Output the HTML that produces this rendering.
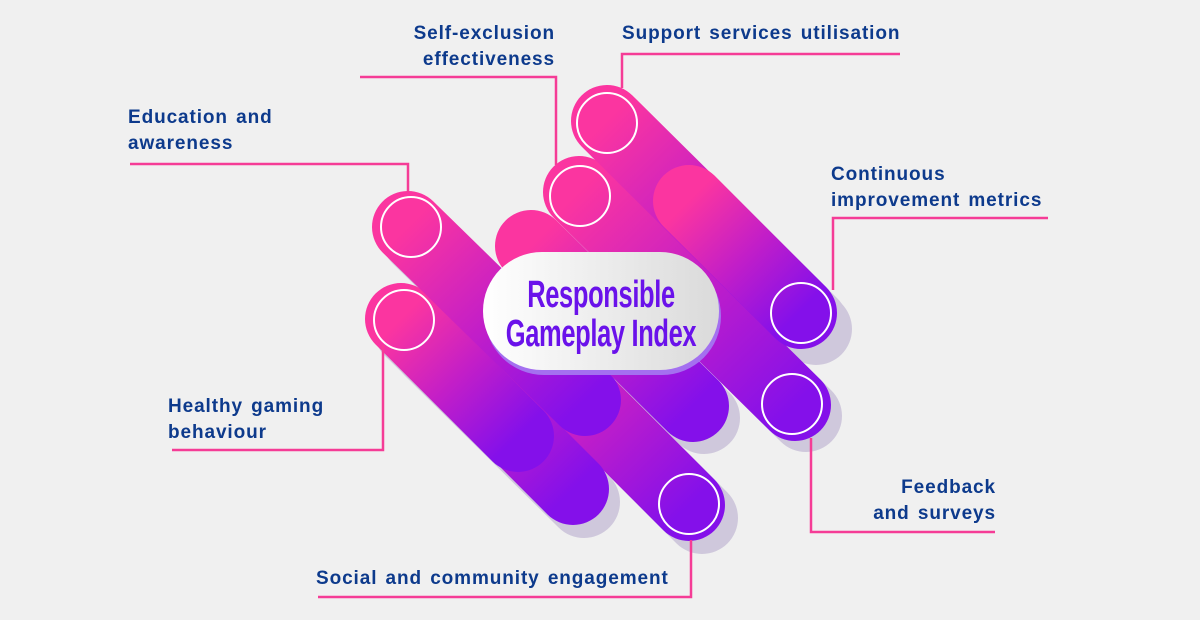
<!DOCTYPE html>
<html><head><meta charset="utf-8"><style>
html,body{margin:0;padding:0;background:#f0f0f0;}
svg{display:block}
.t{font-family:"Liberation Sans",sans-serif;font-weight:bold;font-size:19px;fill:#0d3a8c;letter-spacing:0.9px;word-spacing:2px}
</style></head><body>
<svg width="1200" height="620" viewBox="0 0 1200 620" xmlns="http://www.w3.org/2000/svg">
<defs>
<linearGradient id="g" gradientUnits="objectBoundingBox" x1="0" y1="0" x2="1" y2="1">
<stop offset="0" stop-color="#fb35a0"/><stop offset="0.5" stop-color="#c21ec8"/><stop offset="1" stop-color="#8410ea"/>
</linearGradient>
<linearGradient id="lg" x1="0" y1="0" x2="1" y2="0">
<stop offset="0" stop-color="#ffffff"/><stop offset="1" stop-color="#dadada"/>
</linearGradient>
</defs>
<g fill="none" stroke-linecap="round">
<g stroke="#cfc8dc" stroke-width="72">
<line x1="616" y1="130" x2="812" y2="324"/>
<line x1="588" y1="201" x2="806" y2="416"/>
<line x1="702" y1="215" x2="816" y2="329"/>
<line x1="540" y1="256" x2="704" y2="418"/>
<line x1="520" y1="336" x2="702" y2="518"/>
<line x1="418" y1="238" x2="596" y2="412"/>
<line x1="430" y1="350" x2="584" y2="502"/>
<line x1="410" y1="330" x2="530" y2="448"/>
</g>
</g>
<g stroke-linecap="round" fill="none" stroke-width="72">
<path d="M510 326 L689 505" stroke="url(#g)"/>
<path d="M420 336 L573 489" stroke="url(#g)"/>
<path d="M401 319 L518 436" stroke="url(#g)"/>
<path d="M408 227 L585 400" stroke="url(#g)"/>
<path d="M531 246 L693 406" stroke="url(#g)"/>
<path d="M579 192 L795 405" stroke="url(#g)"/>
<path d="M607 121 L801 313" stroke="url(#g)"/>
<path d="M689 201 L800 312" stroke="url(#g)"/>
</g>
<g fill="none" stroke="#fff" stroke-width="2">
<circle cx="607" cy="123" r="30"/>
<circle cx="580" cy="196" r="30"/>
<circle cx="411" cy="227" r="30"/>
<circle cx="404" cy="320" r="30"/>
<circle cx="801" cy="313" r="30"/>
<circle cx="792" cy="404" r="30"/>
<circle cx="689" cy="504" r="30"/>
</g>
<rect x="485" y="257" width="236" height="118" rx="59" fill="#a470f0"/>
<rect x="483" y="252" width="236" height="118" rx="59" fill="url(#lg)"/>
<g font-family="'Liberation Sans',sans-serif" font-weight="bold" font-size="38" fill="#6a12ea" text-anchor="middle">
<text transform="translate(601,307) scale(0.67,1)" x="0" y="0" letter-spacing="-0.5">Responsible</text>
<text transform="translate(601,346) scale(0.67,1)" x="0" y="0" letter-spacing="-0.5">Gameplay Index</text>
</g>
<g fill="none" stroke="#f53c96" stroke-width="2.5">
<polyline points="360,77 556,77 556,165"/>
<polyline points="622,88 622,54 900,54"/>
<polyline points="130,164 408,164 408,192"/>
<polyline points="1048,218 833,218 833,290"/>
<polyline points="383,345 383,450 172,450"/>
<polyline points="811,438 811,532 995,532"/>
<polyline points="691,540 691,597 318,597"/>
</g>
<text class="t" x="555" y="39" text-anchor="end">Self-exclusion</text>
<text class="t" x="555" y="65" text-anchor="end">effectiveness</text>
<text class="t" x="622" y="39">Support services utilisation</text>
<text class="t" x="128" y="123">Education and</text>
<text class="t" x="128" y="149">awareness</text>
<text class="t" x="831" y="180">Continuous</text>
<text class="t" x="831" y="206">improvement metrics</text>
<text class="t" x="168" y="412">Healthy gaming</text>
<text class="t" x="168" y="438">behaviour</text>
<text class="t" x="996" y="493" text-anchor="end">Feedback</text>
<text class="t" x="996" y="519" text-anchor="end">and surveys</text>
<text class="t" x="316" y="584">Social and community engagement</text>
</svg>
</body></html>
